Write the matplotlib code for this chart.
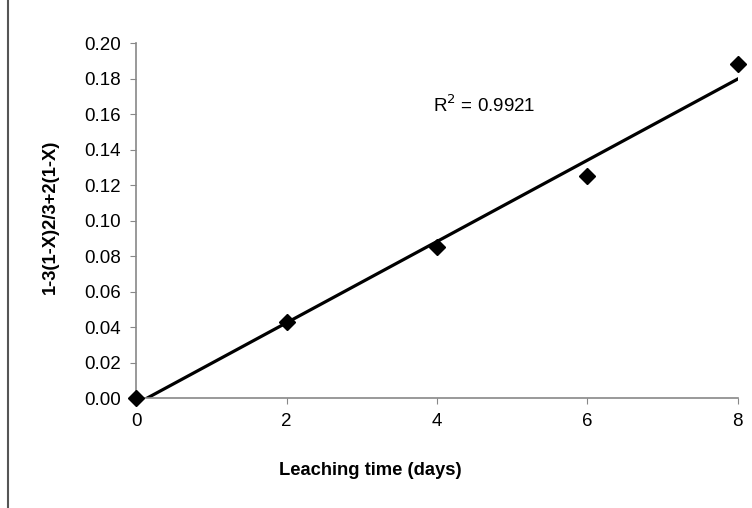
import numpy as np
import matplotlib
matplotlib.use("Agg")
import matplotlib.pyplot as plt
from matplotlib.lines import Line2D

plt.rcParams['font.family'] = ['Liberation Sans', 'DejaVu Sans']

days = [0, 2, 4, 6, 8]
conv = [0.0, 0.043, 0.085, 0.125, 0.188]
xticks = [0, 2, 4, 6, 8]
yticks = [0.00, 0.02, 0.04, 0.06, 0.08, 0.10, 0.12, 0.14, 0.16, 0.18, 0.20]
r2_text = "R$^2$ = 0.9921"

fig = plt.figure(figsize=(7.52, 5.08), dpi=100)
ax = fig.add_axes([0.181, 0.2165, 0.8, 0.6985])

# linear trendline
slope, icept = np.polyfit(days, conv, 1)
xs = np.array([days[0], days[-1]])
ax.plot(xs, slope * xs + icept, color='black', lw=2.3, zorder=2)
ax.plot(days, conv, 'D', color='black', markersize=8, zorder=3, clip_on=False)

ax.text(3.95, 0.165, r2_text, fontsize=13.5, va='center', ha='left')

ax.set_xlim(0, 8)
ax.set_ylim(0, 0.20)
ax.set_xticks(xticks)
ax.set_yticks(yticks)
ax.set_yticklabels([f"{v:.2f}" for v in yticks])
ax.tick_params(labelsize=13.5, direction='out', length=4, color='#888888', pad=7)
for s in ['top', 'right']:
    ax.spines[s].set_visible(False)
for s in ['left', 'bottom']:
    ax.spines[s].set_color('#888888')
    ax.spines[s].set_linewidth(1.2)

ax.set_xlabel("Leaching time (days)", fontsize=13.2, fontweight='bold')
ax.set_ylabel("1-3(1-X)2/3+2(1-X)", fontsize=13.2, fontweight='bold')
ax.xaxis.set_label_coords(0.39, -0.18)
ax.yaxis.set_label_coords(-0.128, 0.51)

# page border line on the left
fig.add_artist(Line2D([0.011, 0.011], [0, 1], color='#555555', lw=1.5))

fig.savefig("out.png", dpi=100)
